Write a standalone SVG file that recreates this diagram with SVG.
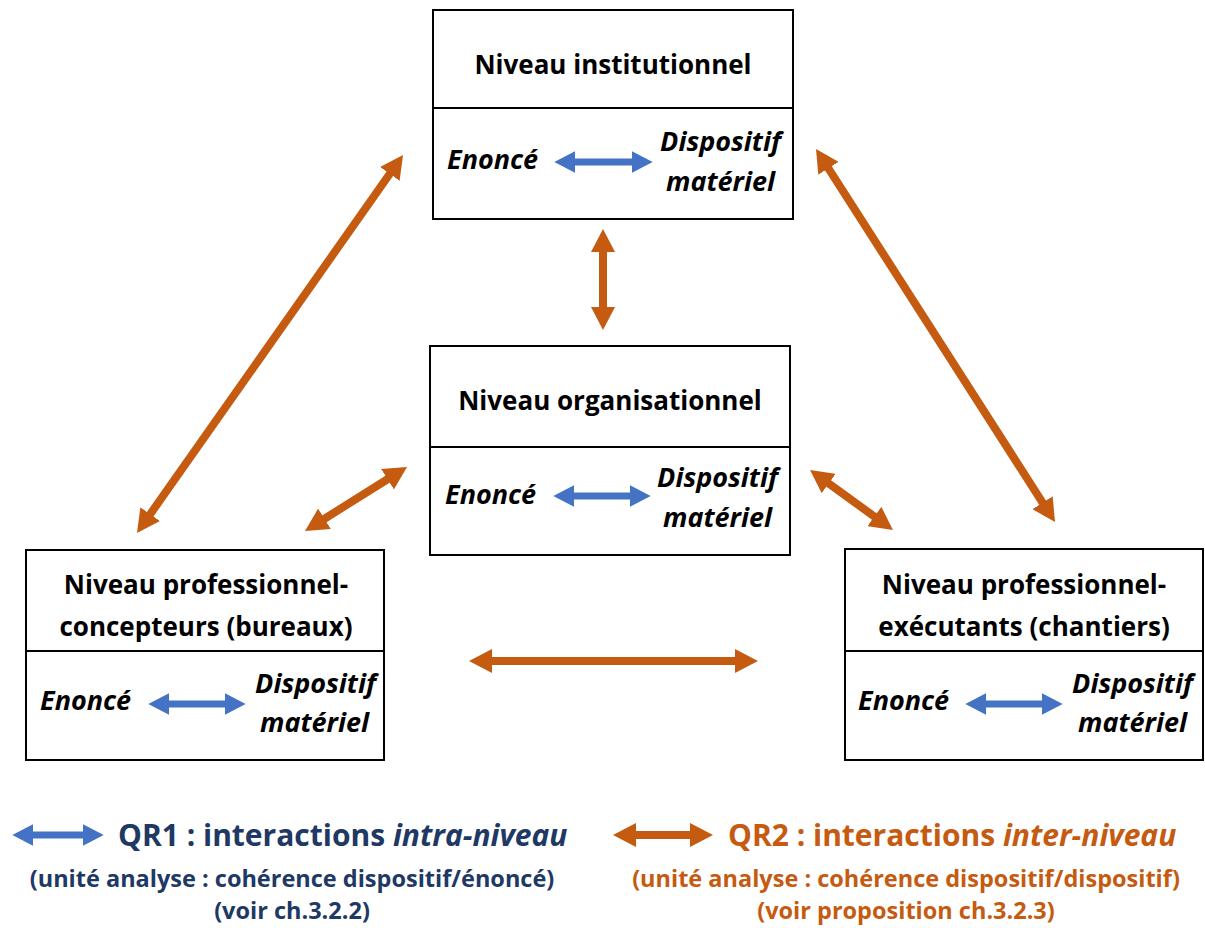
<svg xmlns="http://www.w3.org/2000/svg" width="1205" height="928" viewBox="0 0 1205 928">
<defs>
<marker id="ho" viewBox="0 0 23 24" refX="8" refY="12" markerWidth="23" markerHeight="24" markerUnits="userSpaceOnUse" orient="auto-start-reverse"><path d="M0,0 L23,12 L0,24 z" fill="#c55a11"/></marker>
<marker id="hb" viewBox="0 0 23 24" refX="8" refY="12" markerWidth="21" markerHeight="23" markerUnits="userSpaceOnUse" orient="auto-start-reverse"><path d="M0,0 L23,12 L0,24 z" fill="#4472c4"/></marker>
<style>
.box{fill:#fff;stroke:#000;stroke-width:2}
.t{font-family:"Open Sans","Liberation Sans",sans-serif;font-weight:bold;font-size:26px;fill:#000;text-anchor:middle}
.i{font-family:"Open Sans","Liberation Sans",sans-serif;font-weight:bold;font-style:italic;font-size:27px;fill:#000}
.o{stroke:#c55a11;stroke-width:8;fill:none;marker-start:url(#ho);marker-end:url(#ho)}
.b{stroke:#4472c4;stroke-width:7;fill:none;marker-start:url(#hb);marker-end:url(#hb)}
.l1{font-family:"Open Sans","Liberation Sans",sans-serif;font-weight:bold;font-size:30px}
.l2{font-family:"Open Sans","Liberation Sans",sans-serif;font-weight:bold;font-size:23.5px;text-anchor:middle}
</style>
</defs>
<g id="n-institutionnel">
<rect class="box" x="433" y="10" width="360" height="209"/>
<line x1="433" y1="108" x2="793" y2="108" stroke="#000" stroke-width="2"/>
<text class="t" x="613" y="74">Niveau institutionnel</text>
<text class="i" x="447" y="169">Enoncé</text>
<path class="b" d="M568,162 L639,162"/>
<text class="i" x="781" y="151" text-anchor="end">Dispositif</text>
<text class="i" x="775" y="191" text-anchor="end">matériel</text>
</g>
<g id="n-organisationnel">
<rect class="box" x="430" y="346" width="360" height="209"/>
<line x1="430" y1="447" x2="790" y2="447" stroke="#000" stroke-width="2"/>
<text class="t" x="610" y="410">Niveau organisationnel</text>
<text class="i" x="445" y="504">Enoncé</text>
<path class="b" d="M567,496 L637,496"/>
<text class="i" x="778" y="487" text-anchor="end">Dispositif</text>
<text class="i" x="772" y="527" text-anchor="end">matériel</text>
</g>
<g id="n-concepteurs">
<rect class="box" x="26" y="550" width="358" height="210"/>
<line x1="26" y1="651" x2="384" y2="651" stroke="#000" stroke-width="2"/>
<text class="t" x="206" y="594">Niveau professionnel-</text>
<text class="t" x="206" y="636">concepteurs (bureaux)</text>
<text class="i" x="40" y="710">Enoncé</text>
<path class="b" d="M162,704 L232,704"/>
<text class="i" x="376" y="693" text-anchor="end">Dispositif</text>
<text class="i" x="369" y="732" text-anchor="end">matériel</text>
</g>
<g id="n-executants">
<rect class="box" x="845" y="549" width="358" height="211"/>
<line x1="845" y1="651" x2="1203" y2="651" stroke="#000" stroke-width="2"/>
<text class="t" x="1024" y="594">Niveau professionnel-</text>
<text class="t" x="1024" y="636">exécutants (chantiers)</text>
<text class="i" x="858" y="710">Enoncé</text>
<path class="b" d="M979,704 L1049,704"/>
<text class="i" x="1193" y="693" text-anchor="end">Dispositif</text>
<text class="i" x="1187" y="732" text-anchor="end">matériel</text>
</g>
<g id="connectors">
<path class="o" d="M394.4,167.3 L145.6,520.7"/>
<path class="o" d="M603,244 L603,315"/>
<path class="o" d="M824.1,161.6 L1046.9,509.4"/>
<path class="o" d="M394.3,475 L317.7,523"/>
<path class="o" d="M822.2,478.8 L880.8,521.2"/>
<path class="o" d="M484,661 L743,661"/>
</g>
<g id="legend">
<path class="b" d="M26,835 L90,835"/>
<text class="l1" x="118" y="846" fill="#203864">QR1 : interactions <tspan font-style="italic">intra-niveau</tspan></text>
<text class="l2" x="292" y="887" fill="#203864">(unité analyse : cohérence dispositif/énoncé)</text>
<text class="l2" x="292" y="919" fill="#203864">(voir ch.3.2.2)</text>
<path class="o" d="M628,835 L698,835"/>
<text class="l1" x="728" y="846" fill="#c55a11">QR2 : interactions <tspan font-style="italic">inter-niveau</tspan></text>
<text class="l2" x="906" y="887" fill="#c55a11">(unité analyse : cohérence dispositif/dispositif)</text>
<text class="l2" x="906" y="919" fill="#c55a11">(voir proposition ch.3.2.3)</text>
</g>
</svg>
